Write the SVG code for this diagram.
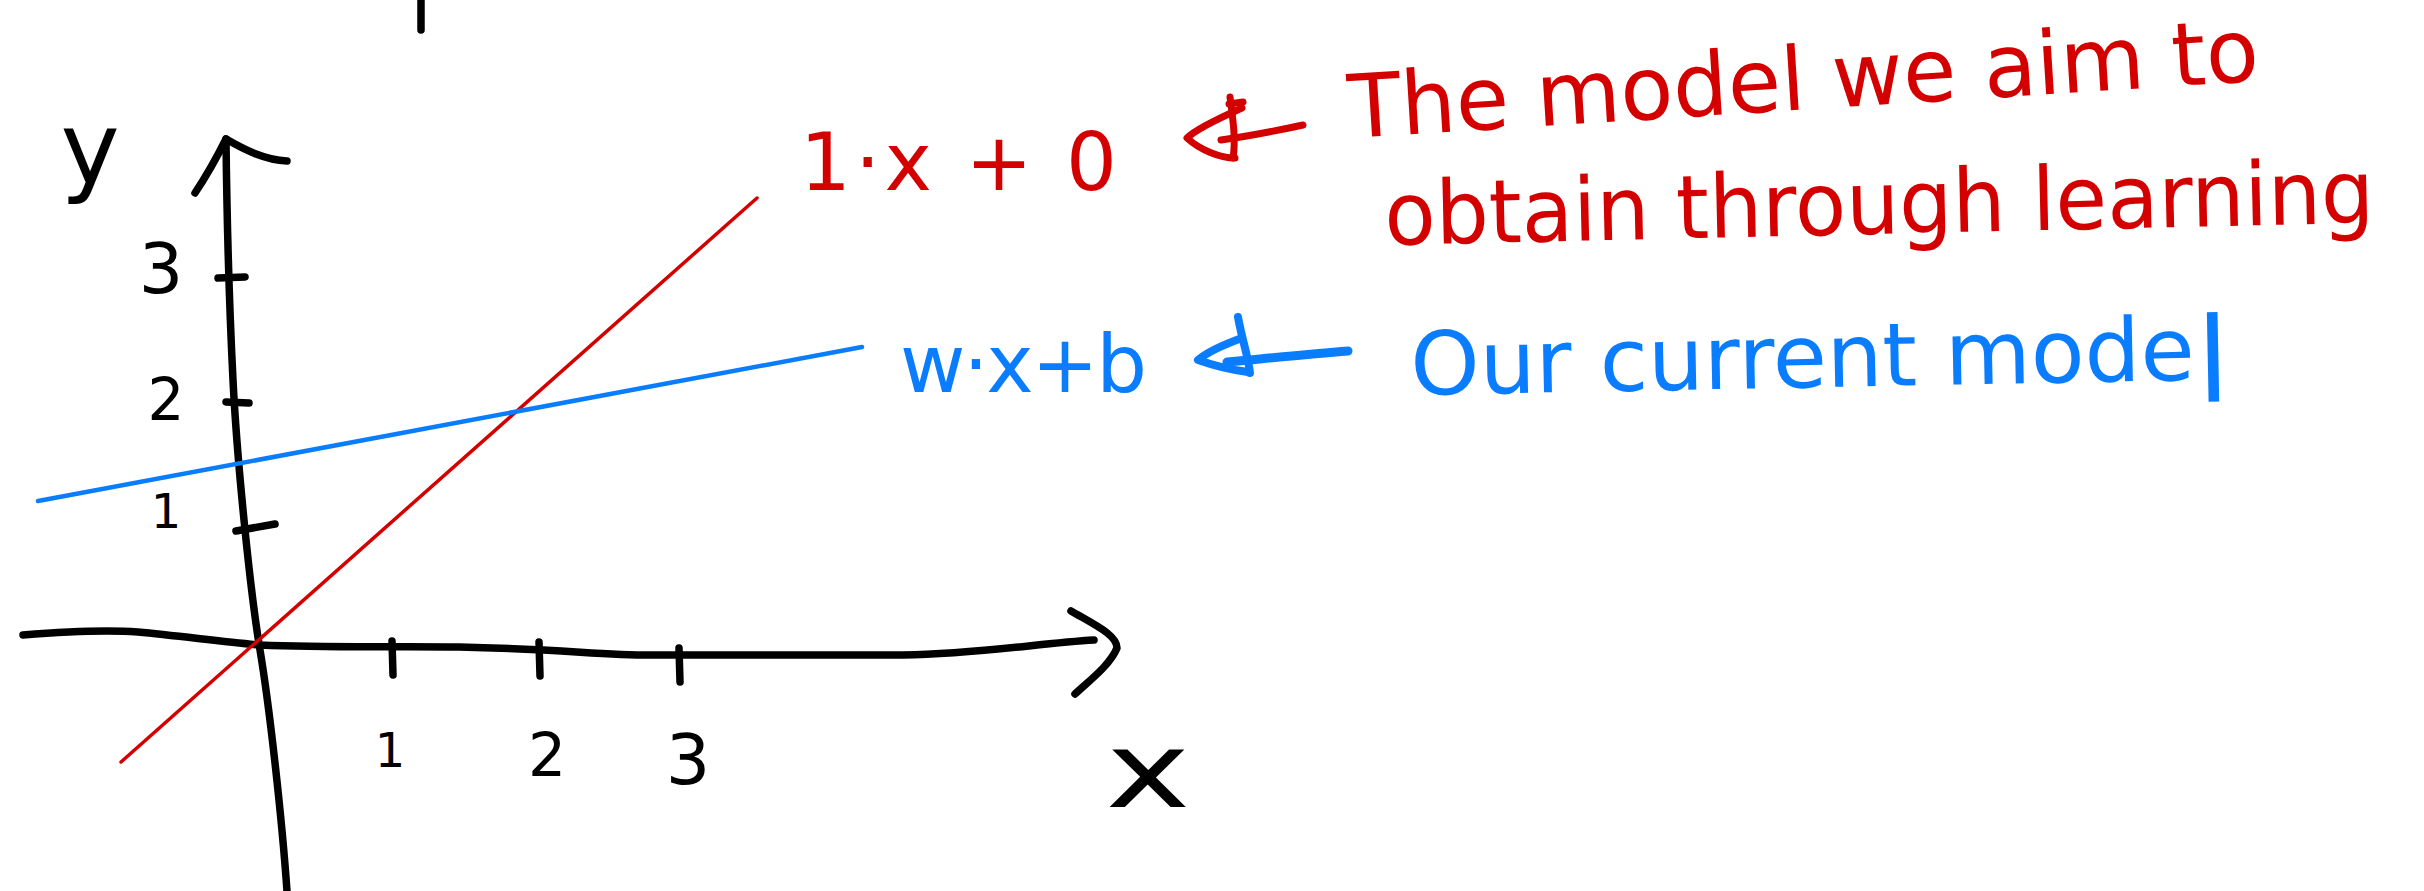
<svg xmlns="http://www.w3.org/2000/svg" width="2424" height="891" viewBox="0 0 2424 891">
<style>
.ink{fill:none;stroke:#000;stroke-width:7.5;stroke-linecap:round;stroke-linejoin:round}
.red{fill:none;stroke:#d40000;stroke-linecap:round;stroke-linejoin:round}
.blue{fill:none;stroke:#0a7dff;stroke-linecap:round;stroke-linejoin:round}
.hand{font-family:"DejaVu Sans","Liberation Sans",sans-serif}
.tk{font-family:"DejaVu Sans","Liberation Sans",sans-serif;fill:#000;text-anchor:middle}
.rt{fill:#d40000}
.bt{fill:#0a7dff}
</style>
<rect width="2424" height="891" fill="#fff"/>
<g id="top-mark"><path class="ink" d="M421,0 L421,30"/></g>
<g id="axes">
<path id="y-axis" class="ink" d="M226,139 C227,230 229,300 233,380 S250,590 260,650 S282,820 287,891"/>
<path id="y-arrowhead" class="ink" d="M195,193 C207,175 218,155 226,139 C245,150 265,160 287,161"/>
<path id="x-axis" class="ink" d="M23,635 C60,632 110,630 138,632 C180,636 225,642 260,645 C330,648 400,646 459,647 C560,649 600,655 650,655 C750,655 850,655 903,655 C980,654 1040,643 1094,640"/>
<path id="x-arrowhead" class="ink" d="M1071,611 C1095,625 1117,635 1117,648 C1110,665 1090,680 1075,694"/>
<g id="y-ticks">
<path class="ink" d="M218,278 L245,277"/>
<path class="ink" d="M226,402 L249,403"/>
<path class="ink" d="M236,531 L275,524"/>
</g>
<g id="x-ticks">
<path class="ink" d="M392,641 L393,675"/>
<path class="ink" d="M539,642 L540,676"/>
<path class="ink" d="M679,648 L680,682"/>
</g>
<text class="tk" x="90" y="183" font-size="100">y</text>
<text class="tk" x="161" y="293" font-size="70">3</text>
<text class="tk" x="166" y="420" font-size="58">2</text>
<text class="tk" x="166" y="528" font-size="48">1</text>
<text class="tk" x="390" y="767" font-size="48">1</text>
<text class="tk" x="547" y="776" font-size="60">2</text>
<text class="tk" x="688" y="784" font-size="70">3</text>
<text class="tk" x="1148" y="807" font-size="105" textLength="85" lengthAdjust="spacingAndGlyphs">x</text>
</g>
<g id="target-line"><path class="red" stroke-width="3.5" d="M121,762 L757,198"/></g>
<g id="current-line"><path class="blue" stroke-width="4.5" d="M38,501 L862,347"/></g>
<g id="connectors">
<g id="red-arrow">
<path class="red" stroke-width="7" d="M1242,108 C1215,120 1195,130 1187,138 C1200,150 1220,158 1235,158"/>
<path class="red" stroke-width="7" d="M1230,97 C1233,120 1236,140 1233,158 M1229,104 L1243,102"/>
<path class="red" stroke-width="7" d="M1221,140 C1250,136 1280,130 1303,125"/>
</g>
<g id="blue-arrow">
<path class="blue" stroke-width="8" d="M1242,338 C1220,346 1205,354 1198,360 C1215,366 1232,370 1248,372"/>
<path class="blue" stroke-width="8" d="M1238,317 C1242,340 1248,355 1250,373"/>
<path class="blue" stroke-width="9" d="M1227,362 C1270,358 1310,354 1348,351"/>
</g>
</g>
<g id="target-label">
<text class="hand rt" x="800" y="190" font-size="80" textLength="317" lengthAdjust="spacing">1·x + 0</text>
<text class="hand rt" x="1350" y="138" font-size="88" transform="rotate(-3.6 1350 138)" textLength="912" lengthAdjust="spacingAndGlyphs">The model we aim to</text>
<text class="hand rt" x="1385" y="245" font-size="88" transform="rotate(-1.3 1385 245)" textLength="990" lengthAdjust="spacingAndGlyphs">obtain through learning</text>
</g>
<g id="current-label">
<text class="hand bt" x="900" y="392" font-size="80" textLength="247" lengthAdjust="spacing">w·x+b</text>
<text class="hand bt" x="1411" y="395" font-size="88" transform="rotate(-1.1 1411 395)">Our current mode<tspan font-size="118" dx="2" dy="22">l</tspan></text>
</g>
</svg>
